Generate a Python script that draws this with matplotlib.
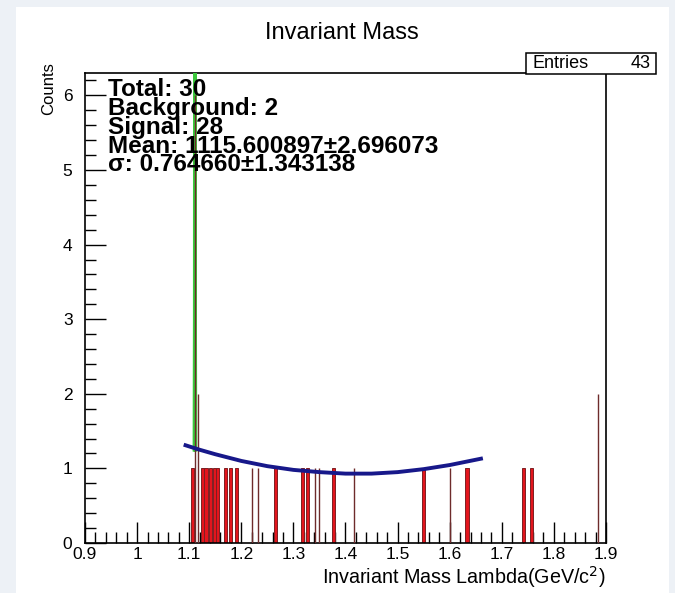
import numpy as np
import matplotlib
matplotlib.use("Agg")
import matplotlib.pyplot as plt
from matplotlib.patches import Rectangle
from matplotlib.ticker import MultipleLocator

plt.rcParams['font.family'] = ['Liberation Sans', 'DejaVu Sans']

# histogram entries (bin centre, counts)
red_x = [1.1059, 1.1264, 1.1322, 1.1414, 1.1490, 1.1548, 1.1695, 1.1795, 1.1912,
         1.2653, 1.3176, 1.3266, 1.3776, 1.5500, 1.6331, 1.7416, 1.7563]
red_counts = [1] * len(red_x)
thin_x = [1.1107, 1.1165, 1.2213, 1.2320, 1.3406, 1.3483, 1.4172, 1.5998, 1.8852]
thin_counts = [6, 2, 1, 1, 1, 1, 1, 1, 2]

# background fit curve
bkg_x = [1.093, 1.12, 1.15, 1.20, 1.25, 1.30, 1.35, 1.40, 1.45, 1.50, 1.55, 1.60, 1.66]
bkg_y = [1.31, 1.25, 1.19, 1.10, 1.03, 0.98, 0.95, 0.93, 0.93, 0.95, 0.99, 1.045, 1.13]

# signal+background fit (narrow peak)
sig_x = [1.1100, 1.1106, 1.1110, 1.1114, 1.1120]
sig_y = [1.25, 3.0, 9.0, 3.0, 1.25]

stats_lines = ["Total: 30", "Background: 2", "Signal: 28",
               "Mean: 1115.600897\u00b12.696073", "\u03c3: 0.764660\u00b11.343138"]
entries = 43

fig = plt.figure(figsize=(6.75, 5.93), dpi=100)
fig.patch.set_facecolor('#edf1f6')
fig.patches.append(Rectangle((16 / 675, 0), 1 - 22 / 675, 1 - 7 / 593,
                             transform=fig.transFigure, facecolor='white',
                             edgecolor='none', zorder=-5))

ax = fig.add_axes([85 / 675, 50 / 593, 521 / 675, 470 / 593])
ax.set_xlim(0.9, 1.9)
ax.set_ylim(0, 6.3)

bw = 0.006
ax.bar(red_x, red_counts, width=bw, color='#e3151d', edgecolor='#7d1f22',
       linewidth=0.7, zorder=2)

# fit: green peak under the thin histogram lines, blue background on top
ax.plot(sig_x, sig_y, color='#3cc83c', linewidth=2.6, zorder=3, clip_on=True)
ax.vlines(thin_x, 0, thin_counts, color='#6e2b2b', linewidth=1.0, zorder=3.5)
ax.plot(bkg_x, bkg_y, color='#17188a', linewidth=2.8, zorder=4)

ax.xaxis.set_minor_locator(MultipleLocator(0.02))
ax.yaxis.set_major_locator(MultipleLocator(1))
ax.yaxis.set_minor_locator(MultipleLocator(0.2))
ax.set_xticks(np.arange(0.9, 1.91, 0.1))
ax.set_xticklabels(["0.9", "1", "1.1", "1.2", "1.3", "1.4", "1.5", "1.6", "1.7", "1.8", "1.9"])
ax.tick_params(which='major', direction='in', length=15, width=1, labelsize=12.5,
               top=False, right=False)
ax.tick_params(axis='x', which='major', pad=3)
ax.tick_params(axis='y', which='major', pad=9)
ax.tick_params(which='minor', direction='in', length=8, width=1, top=False, right=False)
for s in ax.spines.values():
    s.set_linewidth(1.2)

ax.set_xlabel("Invariant Mass Lambda(GeV/c$^{2}$)", fontsize=14.2, loc='right')
ax.xaxis.set_label_coords(1.0, -(564 - 543) / 470)
ax.set_ylabel("Counts", fontsize=12, loc='top')
ax.yaxis.set_label_coords(-(85 - 56) / 521, (543 - 62) / 470)

fig.text(342 / 675, 1 - 33 / 593, "Invariant Mass", ha='center', va='center', fontsize=17)

# fit summary, one block with tight line spacing like the ROOT pave
ax.text(0.044, (543 - 78) / 470, "\n".join(stats_lines), transform=ax.transAxes,
        ha='left', va='top', fontsize=17.5, fontweight='bold', linespacing=0.77, zorder=5)

# stats box
fig.patches.append(Rectangle((526 / 675, 1 - 74 / 593), 130 / 675, 21 / 593,
                             transform=fig.transFigure, facecolor='white',
                             edgecolor='black', linewidth=1.1, zorder=5))
fig.text(533 / 675, 1 - 63.5 / 593, "Entries", ha='left', va='center', fontsize=13, zorder=6)
fig.text(651 / 675, 1 - 63.5 / 593, str(entries), ha='right', va='center', fontsize=13, zorder=6)

fig.savefig("out.png", dpi=100, facecolor=fig.get_facecolor())
